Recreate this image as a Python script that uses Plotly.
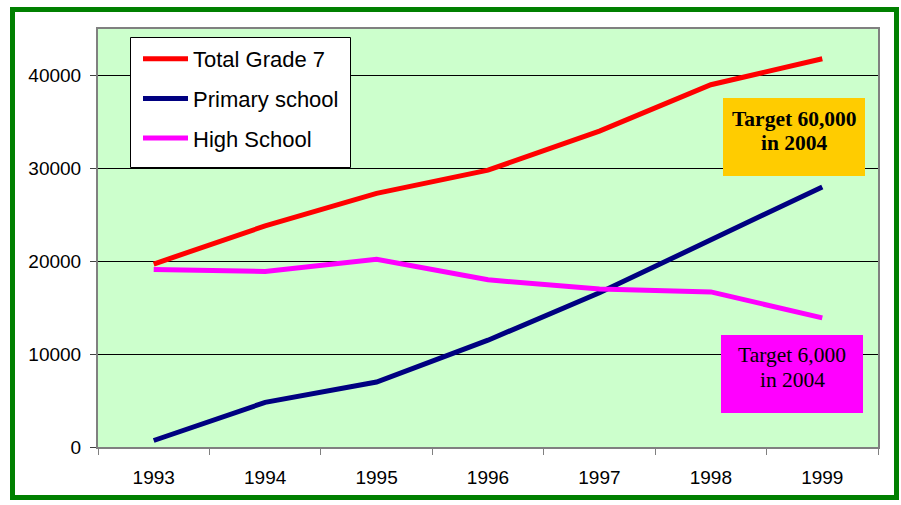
import plotly.graph_objects as go

years = ["1993", "1994", "1995", "1996", "1997", "1998", "1999"]
total_grade7 = [19700, 23800, 27300, 29800, 34000, 39000, 41800]
primary_school = [700, 4800, 7000, 11500, 16600, 22300, 28000]
high_school = [19100, 18900, 20200, 18000, 17000, 16700, 13900]
y_ticks = [0, 10000, 20000, 30000, 40000]

W, H = 901, 505
L, R, T, B = 98, 23, 29, 58
pw, ph = W - L - R, H - T - B

def px_x(x):
    return (x - L) / pw

def px_y(y):
    return (H - B - y) / ph

fig = go.Figure()
series = [
    ("Total Grade 7", total_grade7, "#FF0000"),
    ("Primary school", primary_school, "#000080"),
    ("High School", high_school, "#FF00FF"),
]
for i, (name, vals, col) in enumerate(series):
    fig.add_trace(go.Scatter(
        x=years, y=vals, name=name, mode="lines",
        line=dict(color=col, width=5),
        legendgroup=f"g{i}",
    ))

serif = "Liberation Serif, Times New Roman, serif"

fig.update_layout(
    width=W, height=H,
    margin=dict(l=L, r=R, t=T, b=B),
    paper_bgcolor="white",
    plot_bgcolor="#CCFFCC",
    font=dict(family="Liberation Sans, Arial, sans-serif", size=19, color="black"),
    showlegend=True,
    legend=dict(
        x=px_x(138), y=px_y(38), xanchor="left", yanchor="top",
        bgcolor="rgba(0,0,0,0)", borderwidth=0,
        font=dict(size=22, family="Liberation Sans, Arial, sans-serif"),
        tracegroupgap=8, itemwidth=45,
    ),
    xaxis=dict(
        type="category", range=[-0.5, 6.5],
        showline=True, linecolor="#808080", linewidth=2, mirror=True,
        ticks="outside", tickson="boundaries", ticklen=6, tickcolor="#808080",
        showgrid=False, ticklabelstandoff=12,
    ),
    yaxis=dict(
        range=[0, 45000], tickvals=y_ticks, ticktext=[str(v) for v in y_ticks],
        showline=True, linecolor="#808080", linewidth=2, mirror=True,
        ticks="outside", ticklen=6, tickcolor="#404040",
        showgrid=True, gridcolor="black", gridwidth=1, zeroline=False,
        ticklabelstandoff=5,
    ),
    shapes=[
        dict(type="rect", xref="paper", yref="paper",
             x0=px_x(130.5), x1=px_x(350.5), y0=px_y(167.5), y1=px_y(37.5),
             line=dict(width=1, color="black"), fillcolor="white", layer="above"),
        dict(type="rect", xref="paper", yref="paper",
             x0=px_x(723), x1=px_x(865), y0=px_y(176), y1=px_y(98),
             line=dict(width=0), fillcolor="#FFCC00", layer="above"),
        dict(type="rect", xref="paper", yref="paper",
             x0=px_x(721), x1=px_x(863), y0=px_y(413), y1=px_y(335),
             line=dict(width=0), fillcolor="#FF00FF", layer="above"),
        dict(type="rect", xref="paper", yref="paper",
             x0=px_x(12.5), x1=px_x(896.5), y0=px_y(9.5), y1=px_y(497.5),
             line=dict(color="#008000", width=5), fillcolor="rgba(0,0,0,0)",
             layer="above"),
    ],
    annotations=[
        dict(xref="paper", yref="paper", x=px_x(794), y=px_y(119),
             xanchor="center", yanchor="middle",
             text="<b>Target 60,000</b>", showarrow=False,
             font=dict(family=serif, size=21.5, color="black")),
        dict(xref="paper", yref="paper", x=px_x(794), y=px_y(143),
             xanchor="center", yanchor="middle",
             text="<b>in 2004</b>", showarrow=False,
             font=dict(family=serif, size=21.5, color="black")),
        dict(xref="paper", yref="paper", x=px_x(792), y=px_y(355),
             xanchor="center", yanchor="middle",
             text="Target 6,000", showarrow=False,
             font=dict(family=serif, size=21.5, color="black")),
        dict(xref="paper", yref="paper", x=px_x(792), y=px_y(380),
             xanchor="center", yanchor="middle",
             text="in 2004", showarrow=False,
             font=dict(family=serif, size=21.5, color="black")),
    ],
)

fig.write_html("out.html", config={"displayModeBar": False},
               post_script="document.body.style.margin='0';")
